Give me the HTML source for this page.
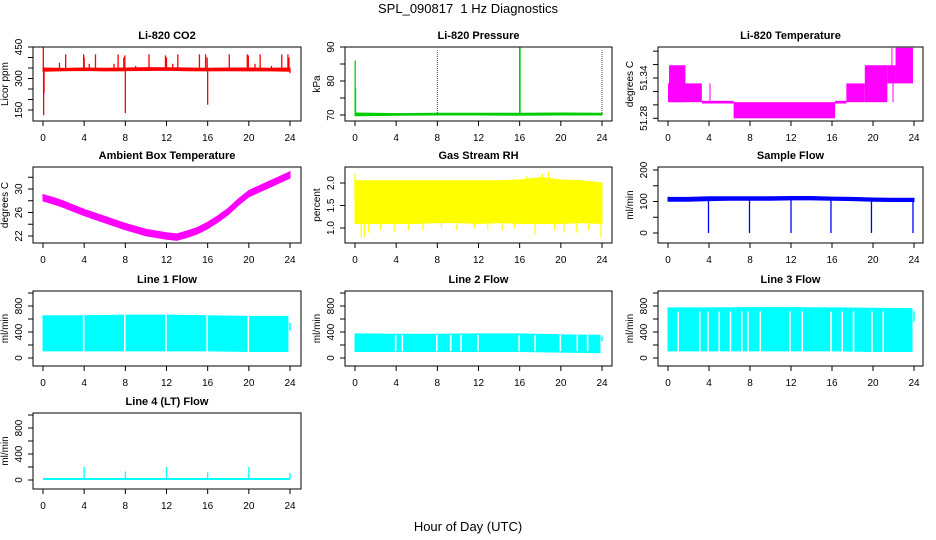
<!DOCTYPE html>
<html><head><meta charset="utf-8">
<style>
body{margin:0;background:#fff;}
svg{display:block;font-family:"Liberation Sans",Arial,sans-serif;}
</style></head>
<body>
<svg id="chart" width="936" height="540" viewBox="0 0 936 540" xmlns="http://www.w3.org/2000/svg">
<text x="468" y="13" font-size="13" text-anchor="middle">SPL_090817&#160; 1 Hz Diagnostics</text>
<text x="468" y="531" font-size="13" text-anchor="middle">Hour of Day (UTC)</text>
</svg>
<script>
// ---------- data ----------
const hourTicks = [0,4,8,12,16,20,24];
// CO2
const co2BaseT = [0,2,4,6,8,10,12,14,16,18,20,22,24];
const co2BaseLo = [335,337,338,336,337,338,339,337,336,337,336,336,335];
const co2BaseHi = [350,348,350,349,350,352,351,350,349,350,350,349,350];
const co2SpikeT = [0.03,0.06,0.1,1.6,2.2,3.95,4.0,4.5,5.1,6.9,7.3,7.85,7.95,8.0,9.0,10.3,11.9,12.0,12.6,13.1,15.2,15.8,15.95,16.0,18.1,19.85,19.95,20.6,21.1,22.2,23.2,23.8,23.9,24.0];
const co2SpikeV = [450,125,230,375,415,415,400,370,415,370,415,400,410,135,360,415,410,400,370,415,415,415,400,175,415,415,410,370,415,360,415,415,400,325];
// Pressure
const presT = [0,4,8,12,16,20,24];
const presLo = [69.8,69.9,70.0,70.0,69.9,70.0,70.0];
const presHi = [70.6,70.4,70.5,70.5,70.5,70.6,70.5];
const presSpikeT = [0.02,0.05,16.0,16.03];
const presSpikeV = [86,78,90,90];
const presMarkT = [8,24];
const presMarkV = [89,89];
// Li-820 temperature (banded segments)
const tmpStart = [0,0.1,3.3,4.05,6.4,16.3,17.4,19.2,21.4,22.2,21.8,21.9];
const tmpEnd   = [3.3,1.7,6.4,4.15,16.3,17.4,19.2,21.4,22.2,23.9,21.85,21.95];
const tmpLo    = [51.304,51.304,51.302,51.304,51.280,51.302,51.304,51.304,51.332,51.332,51.332,51.304];
const tmpHi    = [51.332,51.359,51.306,51.332,51.304,51.306,51.332,51.359,51.359,51.385,51.385,51.332];
// Ambient box temperature
const ambT = [0,1,2,3,4,5,6,7,8,9,10,11,12,13,14,15,16,17,18,19,20,21,22,23,24];
const ambV = [28.5,28.0,27.4,26.7,26.0,25.4,24.8,24.2,23.6,23.1,22.6,22.3,22.0,21.8,22.3,22.9,23.8,24.9,26.2,27.8,29.2,30.0,30.8,31.6,32.4];
// RH
const rhT = [0,2,4,6,8,10,12,14,16,18,20,22,24];
const rhHi = [2.05,2.05,2.05,2.05,2.05,2.05,2.05,2.05,2.07,2.12,2.07,2.05,2.0];
const rhLo = [1.1,1.1,1.1,1.1,1.12,1.12,1.1,1.12,1.1,1.1,1.1,1.12,1.1];
const rhSpikeT = [0.0,0.6,0.9,1.3,2.5,3.8,5.2,6.6,8.4,9.9,11.6,12.9,14.3,15.5,16.7,17.5,18.2,18.8,19.4,20.3,21.5,22.7,23.9];
const rhSpikeV = [2.2,0.8,0.8,0.9,0.95,0.9,0.95,0.95,1.0,0.95,1.0,0.95,0.95,1.0,2.15,0.85,2.2,2.25,0.95,0.9,0.9,0.95,0.8];
// Sample flow
const sfT = [0,2,4,6,8,10,12,14,16,18,20,22,24];
const sfLo = [101,101,103,104,104,104,105,105,104,103,101,100,100];
const sfHi = [113,113,115,115,115,115,116,116,114,113,111,110,110];
const sfDropT = [3.95,7.95,12.0,15.9,19.85,23.9];
const sfDropV = [0,0,0,0,0,0];
// Line flows
const l1T = [0,4,8,12,16,20,23.8];
const l1Hi = [650,650,660,660,650,640,640];
const l1Lo = [110,110,110,110,110,100,100];
const l1Gap = [3.95,7.95,11.95,15.95,19.95];
const l2T = [0,4,8,12,16,20,23.8];
const l2Hi = [370,365,365,370,370,355,350];
const l2Lo = [100,100,100,100,100,90,80];
const l2Gap = [3.95,4.6,7.95,9.3,10.3,11.95,15.95,17.5,19.95,21.6,22.6];
const l3T = [0,4,8,12,16,20,23.8];
const l3Hi = [770,770,775,775,770,765,760];
const l3Lo = [110,110,110,110,110,100,100];
const l3Gap = [1.0,3.1,3.9,5.0,6.1,7.2,7.8,9.0,11.9,13.1,15.9,17.0,18.1,19.9,21.0];
const l4Base = 15;
const l4SpikeT = [4,8,12,16,20,24];
const l4SpikeV = [200,130,200,120,200,110];

// ---------- layout ----------
const svg = document.getElementById('chart');
const NS = 'http://www.w3.org/2000/svg';
const cols = [{b0:33,b1:301,x0:43,x1:290},{b0:345,b1:612,x0:355,x1:602},{b0:658,b1:923,x0:668,x1:914}];
const rows = [{t:47,b:121},{t:167,b:243},{t:291,b:366},{t:413,b:489}];

function mk(tag, attrs, name, parent){
  const el = document.createElementNS(NS, tag);
  for (const k in attrs) el.setAttribute(k, attrs[k]);
  
  
  (parent||svg).appendChild(el);
  return el;
}

function panel(opt){
  const c = cols[opt.col], r = rows[opt.row];
  const g = mk('g', {}, opt.name);
  const xs = t => c.x0 + t*(c.x1-c.x0)/24;
  const ys = v => opt.p1 + (v-opt.v1)*(opt.p2-opt.p1)/(opt.v2-opt.v1);
  const p = {g, xs, ys, c, r};
  opt.draw(p);
  mk('rect', {x:c.b0, y:r.t, width:c.b1-c.b0, height:r.b-r.t, fill:'none', stroke:'#000', 'stroke-width':1}, 'plot-frame', g);
  const t = mk('text', {x:(c.b0+c.b1)/2, y:r.t-8, 'font-size':11, 'font-weight':'bold', 'text-anchor':'middle'}, 'panel-title', g);
  t.textContent = opt.title;
  hourTicks.forEach(h => {
    mk('line', {x1:xs(h), x2:xs(h), y1:r.b, y2:r.b+5, stroke:'#000'}, 'x-tick', g);
    const lt = mk('text', {x:xs(h), y:r.b+20, 'font-size':10, 'text-anchor':'middle'}, 'x-tick-label', g);
    lt.textContent = h;
  });
  opt.yTicks.forEach(v => {
    const y = ys(v);
    mk('line', {x1:c.b0-5, x2:c.b0, y1:y, y2:y, stroke:'#000'}, 'y-tick', g);
  });
  opt.yLabels.forEach(v => {
    const y = ys(v);
    const lt = mk('text', {x:c.b0-11, y:y, 'font-size':10, 'text-anchor':'middle', transform:`rotate(-90 ${c.b0-11} ${y})`}, 'y-tick-label', g);
    lt.textContent = opt.fmt ? opt.fmt(v) : v;
  });
  const ym = (r.t+r.b)/2;
  const yl = mk('text', {x:c.b0-25, y:ym, 'font-size':10, 'text-anchor':'middle', transform:`rotate(-90 ${c.b0-25} ${ym})`}, 'y-axis-title', g);
  yl.textContent = opt.ylab;
}

function band(p, T, lo, hi, color, name, extra){
  let d = '';
  T.forEach((t,i)=>{ d += (i?'L':'M') + p.xs(t).toFixed(1) + ' ' + p.ys(hi[i]).toFixed(1); });
  for (let i=T.length-1;i>=0;i--) d += 'L' + p.xs(T[i]).toFixed(1) + ' ' + p.ys(lo[i]).toFixed(1);
  mk('path', Object.assign({d:d+'Z', fill:color, stroke:color, 'stroke-width':1}, extra||{}), name, p.g);
}
function spikes(p, T, V, base, color, name, w){
  T.forEach((t,i)=>{
    mk('line', {x1:p.xs(t), x2:p.xs(t), y1:p.ys(base), y2:p.ys(V[i]), stroke:color, 'stroke-width':w||1}, name, p.g);
  });
}
function gaps(p, T, lo, hi, name){
  T.forEach(t=>{
    mk('line', {x1:p.xs(t), x2:p.xs(t), y1:p.ys(hi)-1, y2:p.ys(lo)+1, stroke:'#fff', 'stroke-width':1.6}, name, p.g);
  });
}

// ---------- panels ----------
panel({name:'co2-panel', title:'Li-820 CO2', ylab:'Licor ppm', col:0, row:0, v1:150,p1:110,v2:450,p2:47,
  yTicks:[150,200,250,300,350,400,450], yLabels:[150,300,450],
  draw:p=>{ band(p, co2BaseT, co2BaseLo, co2BaseHi, '#ff0000', 'co2-series');
            spikes(p, co2SpikeT, co2SpikeV, 342, '#ff0000', 'co2-spike', 1.3); }});
panel({name:'pressure-panel', title:'Li-820 Pressure', ylab:'kPa', col:1, row:0, v1:70,p1:115,v2:90,p2:47,
  yTicks:[70,75,80,85,90], yLabels:[70,80,90],
  draw:p=>{ band(p, presT, presLo, presHi, '#00cd00', 'pressure-series');
            spikes(p, presSpikeT, presSpikeV, 70, '#00cd00', 'pressure-spike', 1.3);
            presMarkT.forEach((t,i)=>{
              mk('line', {x1:p.xs(t), x2:p.xs(t), y1:p.ys(70), y2:p.ys(presMarkV[i]), stroke:'#444', 'stroke-width':1, 'stroke-dasharray':'1 1'}, 'pressure-spike-dark', p.g);
            }); }});
panel({name:'temperature-panel', title:'Li-820 Temperature', ylab:'degrees C', col:2, row:0, v1:51.28,p1:118.3,v2:51.34,p2:78,
  yTicks:[51.28,51.30,51.32,51.34,51.36,51.38], yLabels:[51.28,51.34], fmt:v=>v.toFixed(2),
  draw:p=>{ tmpStart.forEach((s,i)=>{
      const y1 = p.ys(tmpHi[i]), y2 = p.ys(tmpLo[i]);
      mk('rect', {x:p.xs(s), y:y1, width:Math.max(1,p.xs(tmpEnd[i])-p.xs(s)), height:Math.max(1,y2-y1), fill:'#ff00ff'}, 'temperature-band', p.g);
    }); }});
panel({name:'ambient-panel', title:'Ambient Box Temperature', ylab:'degrees C', col:0, row:1, v1:22,p1:236,v2:30,p2:189,
  yTicks:[22,24,26,28,30,32], yLabels:[22,26,30],
  draw:p=>{ band(p, ambT, ambV.map(v=>v-0.55), ambV.map(v=>v+0.55), '#ff00ff', 'ambient-series'); }});
panel({name:'rh-panel', title:'Gas Stream RH', ylab:'percent', col:1, row:1, v1:1.0,p1:228,v2:2.0,p2:183,
  yTicks:[1.0,1.5,2.0], yLabels:[1.0,1.5,2.0], fmt:v=>v.toFixed(1),
  draw:p=>{ band(p, rhT, rhLo, rhHi, '#ffff00', 'rh-series');
            spikes(p, rhSpikeT, rhSpikeV, 1.6, '#ffff00', 'rh-spike', 1.2); }});
panel({name:'sample-flow-panel', title:'Sample Flow', ylab:'ml/min', col:2, row:1, v1:0,p1:233,v2:200,p2:170,
  yTicks:[0,50,100,150,200], yLabels:[0,100,200],
  draw:p=>{ band(p, sfT, sfLo, sfHi, '#0000ff', 'sample-flow-series');
            spikes(p, sfDropT, sfDropV, 105, '#0000ff', 'sample-flow-drop', 1.3); }});
const flowTicks = [0,200,400,600,800,1000];
panel({name:'line1-panel', title:'Line 1 Flow', ylab:'ml/min', col:0, row:2, v1:0,p1:358,v2:800,p2:306,
  yTicks:flowTicks, yLabels:[0,400,800],
  draw:p=>{ band(p, l1T, l1Lo, l1Hi, '#00ffff', 'line1-series'); gaps(p, l1Gap, 100, 660, 'line1-gap');
            mk('line',{x1:p.xs(24),x2:p.xs(24),y1:p.ys(420),y2:p.ys(540),stroke:'#00ffff','stroke-width':1.5},'line1-end',p.g); }});
panel({name:'line2-panel', title:'Line 2 Flow', ylab:'ml/min', col:1, row:2, v1:0,p1:358,v2:800,p2:306,
  yTicks:flowTicks, yLabels:[0,400,800],
  draw:p=>{ band(p, l2T, l2Lo, l2Hi, '#00ffff', 'line2-series'); gaps(p, l2Gap, 120, 340, 'line2-gap');
            mk('line',{x1:p.xs(24),x2:p.xs(24),y1:p.ys(260),y2:p.ys(330),stroke:'#00ffff','stroke-width':1.5},'line2-end',p.g); }});
panel({name:'line3-panel', title:'Line 3 Flow', ylab:'ml/min', col:2, row:2, v1:0,p1:358,v2:800,p2:306,
  yTicks:flowTicks, yLabels:[0,400,800],
  draw:p=>{ band(p, l3T, l3Lo, l3Hi, '#00ffff', 'line3-series'); gaps(p, l3Gap, 110, 700, 'line3-gap');
            mk('line',{x1:p.xs(24),x2:p.xs(24),y1:p.ys(560),y2:p.ys(720),stroke:'#00ffff','stroke-width':1.5},'line3-end',p.g); }});
panel({name:'line4-panel', title:'Line 4 (LT) Flow', ylab:'ml/min', col:0, row:3, v1:0,p1:480,v2:800,p2:428,
  yTicks:flowTicks, yLabels:[0,400,800],
  draw:p=>{ mk('line',{x1:p.xs(0),x2:p.xs(24),y1:p.ys(l4Base),y2:p.ys(l4Base),stroke:'#00ffff','stroke-width':2},'line4-series',p.g);
            spikes(p, l4SpikeT, l4SpikeV, l4Base, '#00ffff', 'line4-spike', 1.3); }});
</script>
</body></html>
